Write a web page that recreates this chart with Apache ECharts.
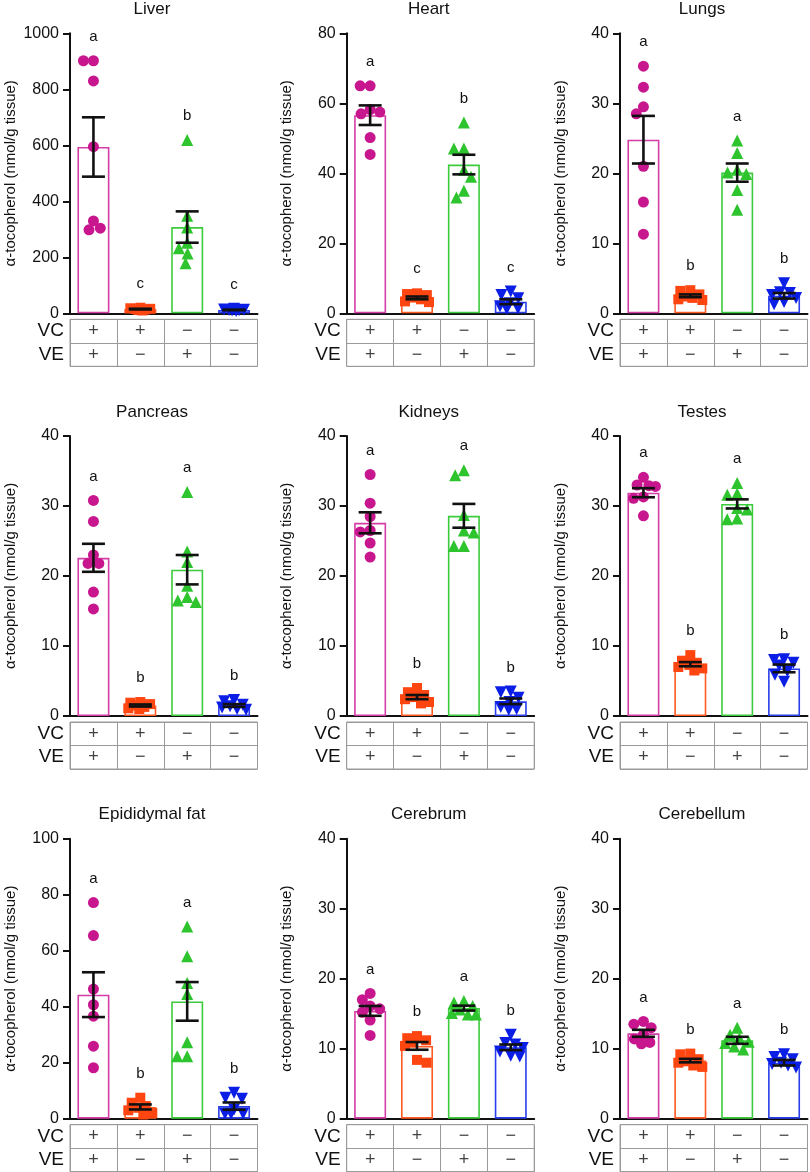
<!DOCTYPE html>
<html><head><meta charset="utf-8">
<script src="https://cdn.jsdelivr.net/npm/echarts@6/dist/echarts.min.js"></script>
<style>html,body{margin:0;padding:0;background:#fff}#c{width:810px;height:1172px}</style>
</head><body><div id="c"></div>
<script>
// ---------------- DATA ----------------
const groups = ['VC+VE+', 'VC+VE−', 'VC−VE+', 'VC−VE−'];
const vcSigns = ['+', '+', '−', '−'];
const veSigns = ['+', '−', '+', '−'];
const rowLabels = ['VE', 'VC'];
const yName = 'α-tocopherol (nmol/g tissue)';

const tissueNames = ['Liver', 'Heart', 'Lungs', 'Pancreas', 'Kidneys', 'Testes', 'Epididymal fat', 'Cerebrum', 'Cerebellum'];
const axisMax = [1000, 80, 40, 40, 40, 40, 100, 40, 40];
const axisInterval = [200, 20, 10, 10, 10, 10, 20, 10, 10];

const liverPoints = [[902, 902, 830, 595, 330, 298, 304], [20, 18, 16, 15, 14, 12, 10], [619, 348, 306, 252, 232, 214, 179], [16, 14, 13, 12, 11, 10, 8]];
const liverMean = [594, 15, 308, 12];
const liverSem = [106, 1.3, 56, 1.0];
const liverLetters = ['a', 'c', 'b', 'c'];

const heartPoints = [[65, 65, 58.2, 57.5, 57, 50.2, 45.4], [5.7, 5.5, 5.2, 4.5, 4.0, 3.4, 3.2], [54.5, 47.1, 47.1, 41, 39, 35, 33.1], [6.2, 5.2, 4.3, 2.9, 2.0, 1.4, 1.2]];
const heartMean = [56.6, 4.4, 42.5, 3.3];
const heartSem = [2.8, 0.4, 2.8, 0.7];
const heartLetters = ['a', 'c', 'b', 'c'];

const lungsPoints = [[35.3, 32.3, 29.5, 28.5, 21, 15.9, 11.3], [3.3, 3.2, 2.7, 2.4, 2.2, 2.0, 1.9], [24.7, 22.9, 20.5, 20.1, 19.9, 17.6, 14.8], [4.3, 3.0, 2.9, 2.6, 2.2, 1.6, 1.3]];
const lungsMean = [24.8, 2.5, 20.1, 2.5];
const lungsSem = [3.4, 0.2, 1.3, 0.4];
const lungsLetters = ['a', 'b', 'a', 'b'];

const pancreasPoints = [[30.8, 27.8, 23, 21.8, 21.8, 17.7, 15.3], [2.0, 1.9, 1.7, 1.5, 1.3, 1.1, 1.0], [32, 23.5, 22, 18.6, 17, 16.5, 16.3], [2.3, 2.1, 1.6, 1.4, 1.2, 1.0, 0.9]];
const pancreasMean = [22.6, 1.5, 20.9, 1.5];
const pancreasSem = [2.0, 0.15, 2.1, 0.2];
const pancreasLetters = ['a', 'b', 'a', 'b'];

const kidneysPoints = [[34.5, 30.4, 28.5, 26.5, 26.3, 24.7, 22.7], [4.0, 3.4, 3.0, 2.7, 2.4, 2.0, 1.8], [35.1, 34.4, 28.7, 26.5, 26.2, 24.3, 24.3], [3.5, 3.4, 2.6, 2.0, 1.3, 1.0, 0.9]];
const kidneysMean = [27.6, 2.7, 28.6, 2.1];
const kidneysSem = [1.5, 0.3, 1.7, 0.4];
const kidneysLetters = ['a', 'b', 'a', 'b'];

const testesPoints = [[34.1, 33, 32.9, 32.8, 31.3, 31.1, 28.6], [8.7, 7.9, 7.6, 7.3, 7.0, 6.8, 6.5], [33.3, 31.8, 31.6, 29.7, 29.5, 28.2, 28.1], [8.1, 8.0, 7.6, 7.2, 6.4, 5.9, 4.9]];
const testesMean = [31.9, 7.4, 30.3, 6.8];
const testesSem = [0.65, 0.3, 0.65, 0.55];
const testesLetters = ['a', 'b', 'a', 'b'];

const fatPoints = [[77.2, 65.4, 46.3, 40.7, 36.6, 25.9, 18.2], [7.5, 5.7, 4.5, 3.9, 3.0, 2.0, 1.5], [68.6, 58, 48.5, 44.5, 27.3, 22.3, 22.3], [9.3, 7.5, 7.1, 3.3, 1.8, 1.8, 1.8]];
const fatMean = [44.3, 4.2, 41.9, 4.5];
const fatSem = [8.0, 0.9, 6.9, 1.3];
const fatLetters = ['a', 'b', 'a', 'b'];

const cerebrumPoints = [[17.9, 17.0, 16.1, 15.7, 15.2, 14.1, 11.9], [11.8, 11.5, 11.2, 10.9, 10.4, 8.4, 8.0], [16.8, 16.6, 16.1, 15.6, 15.1, 14.9, 14.9], [12.0, 10.8, 10.6, 10.1, 9.6, 9.0, 8.9]];
const cerebrumMean = [15.4, 10.4, 15.8, 10.2];
const cerebrumSem = [0.7, 0.55, 0.35, 0.4];
const cerebrumLetters = ['a', 'b', 'a', 'b'];

const cerebellumPoints = [[13.9, 13.5, 13.0, 12.0, 11.4, 10.9, 10.7], [9.3, 9.2, 8.5, 8.2, 8.0, 7.6, 7.4], [13.0, 12.0, 11.5, 11.0, 10.8, 10.3, 9.9], [9.2, 8.8, 8.5, 8.0, 7.8, 7.6, 7.3]];
const cerebellumMean = [12.2, 8.3, 11.2, 8.0];
const cerebellumSem = [0.5, 0.25, 0.5, 0.4];
const cerebellumLetters = ['a', 'b', 'a', 'b'];

// ---------------- STYLE / LAYOUT ----------------
const colors = ['#C8168E', '#FF4510', '#2EC42E', '#0A1EE6'];
const barBorder = ['#D43CA6', '#FF5A24', '#3CCB3C', '#2A3EEA'];
const symbols = ['circle', 'rect', 'triangle', 'triangle'];
const symbolRot = [0, 0, 0, 180];
const symbolSizes = [11, 10, 12, 12];
const FONT = '"Liberation Sans", Arial, Helvetica, sans-serif';

const colLeft = [70, 346.7, 620];
const rowTop = [33.3, 436, 838.7];
const plotW = 187.5, plotH = 280, tableGap = 6, tableH = 47;

const panels = [
  [liverPoints, liverMean, liverSem, liverLetters],
  [heartPoints, heartMean, heartSem, heartLetters],
  [lungsPoints, lungsMean, lungsSem, lungsLetters],
  [pancreasPoints, pancreasMean, pancreasSem, pancreasLetters],
  [kidneysPoints, kidneysMean, kidneysSem, kidneysLetters],
  [testesPoints, testesMean, testesSem, testesLetters],
  [fatPoints, fatMean, fatSem, fatLetters],
  [cerebrumPoints, cerebrumMean, cerebrumSem, cerebrumLetters],
  [cerebellumPoints, cerebellumMean, cerebellumSem, cerebellumLetters]
];

// beeswarm horizontal offsets (pixels), limited to the bar width
function swarm(vals, ppu, D, maxOff) {
  const order = vals.map((v, i) => i).sort((a, b) => vals[b] - vals[a]);
  const placed = [];
  const xs = new Array(vals.length).fill(0);
  let lastSign = 1;
  const minDist = (c, y) => placed.reduce((m, p) => Math.min(m, Math.hypot(c - p.x, y - p.y)), Infinity);
  for (const i of order) {
    const y = vals[i] * ppu;
    const cands = [0];
    for (const p of placed) {
      const dy = Math.abs(y - p.y);
      if (dy < D) { const w = Math.sqrt(D * D - dy * dy); cands.push(p.x - w, p.x + w); }
    }
    let ok = cands.filter(c => Math.abs(c) <= maxOff + 1e-6 && minDist(c, y) >= D - 0.01);
    let x;
    if (ok.length) {
      ok.sort((a, b) => {
        const d = Math.abs(a) - Math.abs(b);
        if (Math.abs(d) > 1e-6) return d;
        return Math.sign(a) === -lastSign ? -1 : 1;
      });
      x = ok[0];
    } else {
      let best = 0, bestD = -1;
      for (let c = -maxOff; c <= maxOff + 1e-6; c += 1) {
        const d = minDist(c, y) - Math.abs(c) * 0.01;
        if (d > bestD) { bestD = d; best = c; }
      }
      x = best;
    }
    if (x !== 0) lastSign = Math.sign(x);
    xs[i] = x;
    placed.push({ x, y });
  }
  return xs;
}

const grids = [], xAxes = [], yAxes = [], series = [], graphics = [];
const catW = plotW / 4;

panels.forEach((pd, k) => {
  const [pts, mean, sem, letters] = pd;
  const left = colLeft[k % 3], top = rowTop[Math.floor(k / 3)];
  const ymax = axisMax[k];
  const ppu = plotH / ymax;

  grids.push({ left: left, top: top, width: plotW, height: plotH, containLabel: false });
  const gi = grids.length - 1;
  xAxes.push({ type: 'category', gridIndex: gi, data: groups, boundaryGap: true,
    axisLine: { show: true, onZero: false, lineStyle: { color: '#111', width: 2 } }, axisTick: { show: false }, axisLabel: { show: false }, splitLine: { show: false } });
  const xCat = xAxes.length - 1;
  xAxes.push({ type: 'value', gridIndex: gi, min: -0.5, max: 3.5, show: false, axisLine: { onZero: false } });
  const xVal = xAxes.length - 1;
  yAxes.push({ type: 'value', gridIndex: gi, min: 0, max: ymax, interval: axisInterval[k],
    axisLine: { show: true, onZero: false, lineStyle: { color: '#111', width: 2 } },
    axisTick: { show: true, length: 7, lineStyle: { color: '#111', width: 2 } },
    axisLabel: { fontSize: 16, color: '#111', margin: 11, fontFamily: FONT, formatter: v => String(v) },
    splitLine: { show: false },
    name: yName, nameLocation: 'middle', nameGap: 52,
    nameTextStyle: { fontSize: 15, color: '#111', fontFamily: FONT } });
  const yi = yAxes.length - 1;

  series.push({ type: 'bar', xAxisIndex: xCat, yAxisIndex: yi, barWidth: 32, z: 2,
    data: mean.map((m, i) => ({ value: m, itemStyle: { color: '#fff', borderColor: barBorder[i], borderWidth: 1.6 } })),
    silent: true });

  const scatterData = [];
  pts.forEach((arr, g) => {
    const offs = swarm(arr, ppu, 10, 12);
    arr.forEach((v, j) => {
      scatterData.push({ value: [g + offs[j] / catW, v], symbol: symbols[g], symbolRotate: symbolRot[g],
        symbolSize: symbolSizes[g], itemStyle: { color: colors[g], opacity: 1 } });
    });
  });
  series.push({ type: 'scatter', xAxisIndex: xVal, yAxisIndex: yi, z: 3, data: scatterData, silent: true });

  series.push({ type: 'custom', xAxisIndex: xVal, yAxisIndex: yi, z: 4, silent: true,
    data: mean.map((m, i) => [i, m, sem[i]]),
    encode: { x: 0, y: 1 },
    renderItem: (params, api) => {
      const x = api.value(0), m = api.value(1), s = api.value(2);
      const pt = api.coord([x, m + s]), pb = api.coord([x, m - s]);
      const hw = 11.5, st = { stroke: '#111', lineWidth: 2.6 };
      return { type: 'group', children: [
        { type: 'line', shape: { x1: pt[0], y1: pt[1], x2: pb[0], y2: pb[1] }, style: st },
        { type: 'line', shape: { x1: pt[0] - hw, y1: pt[1], x2: pt[0] + hw, y2: pt[1] }, style: st },
        { type: 'line', shape: { x1: pb[0] - hw, y1: pb[1], x2: pb[0] + hw, y2: pb[1] }, style: st }
      ] };
    } });

  series.push({ type: 'custom', xAxisIndex: xVal, yAxisIndex: yi, z: 4, silent: true,
    data: mean.map((m, i) => [i, Math.max(Math.max(...pts[i]), m + sem[i])]),
    encode: { x: 0, y: 1 },
    renderItem: (params, api) => {
      const p = api.coord([api.value(0), api.value(1)]);
      return { type: 'text', x: p[0], y: p[1] - 24,
        style: { text: letters[params.dataIndex], align: 'center', verticalAlign: 'middle',
          fontSize: 15, fontFamily: FONT, fill: '#111' } };
    } });

  graphics.push({ type: 'text', x: left + 82, y: top - 24, silent: true,
    style: { text: tissueNames[k], align: 'center', verticalAlign: 'middle', fontSize: 17, fontFamily: FONT, fill: '#111' } });

  grids.push({ left: left, top: top + plotH + tableGap, width: plotW, height: tableH, show: true,
    borderColor: '#9a9a9a', borderWidth: 1, backgroundColor: 'transparent' });
  const tg = grids.length - 1;
  xAxes.push({ type: 'category', gridIndex: tg, data: groups, boundaryGap: true,
    axisLine: { show: false, onZero: false }, axisTick: { show: false, interval: 0 }, axisLabel: { show: false, interval: 0 },
    splitLine: { show: true, interval: 0, lineStyle: { color: '#9a9a9a', width: 1 } } });
  const tx = xAxes.length - 1;
  yAxes.push({ type: 'category', gridIndex: tg, data: rowLabels, boundaryGap: true,
    axisLine: { show: false, onZero: false }, axisTick: { show: false, interval: 0 },
    axisLabel: { fontSize: 19, color: '#111', margin: 6, fontFamily: FONT, interval: 0 },
    splitLine: { show: true, interval: 0, lineStyle: { color: '#9a9a9a', width: 1 } } });
  const ty = yAxes.length - 1;
  const signData = [];
  groups.forEach((g, i) => {
    signData.push({ value: [i, 'VC'], name: vcSigns[i] });
    signData.push({ value: [i, 'VE'], name: veSigns[i] });
  });
  series.push({ type: 'scatter', xAxisIndex: tx, yAxisIndex: ty, symbolSize: 1, silent: true,
    itemStyle: { color: 'rgba(0,0,0,0)' },
    label: { show: true, position: 'inside', formatter: '{b}', fontSize: 18, color: '#111', fontFamily: FONT },
    data: signData });
});

const chart = echarts.init(document.getElementById('c'), null, { renderer: 'canvas' });
chart.setOption({
  animation: false,
  backgroundColor: '#fff',
  textStyle: { fontFamily: FONT },
  grid: grids, xAxis: xAxes, yAxis: yAxes, series: series, graphic: graphics
});
</script></body></html>
